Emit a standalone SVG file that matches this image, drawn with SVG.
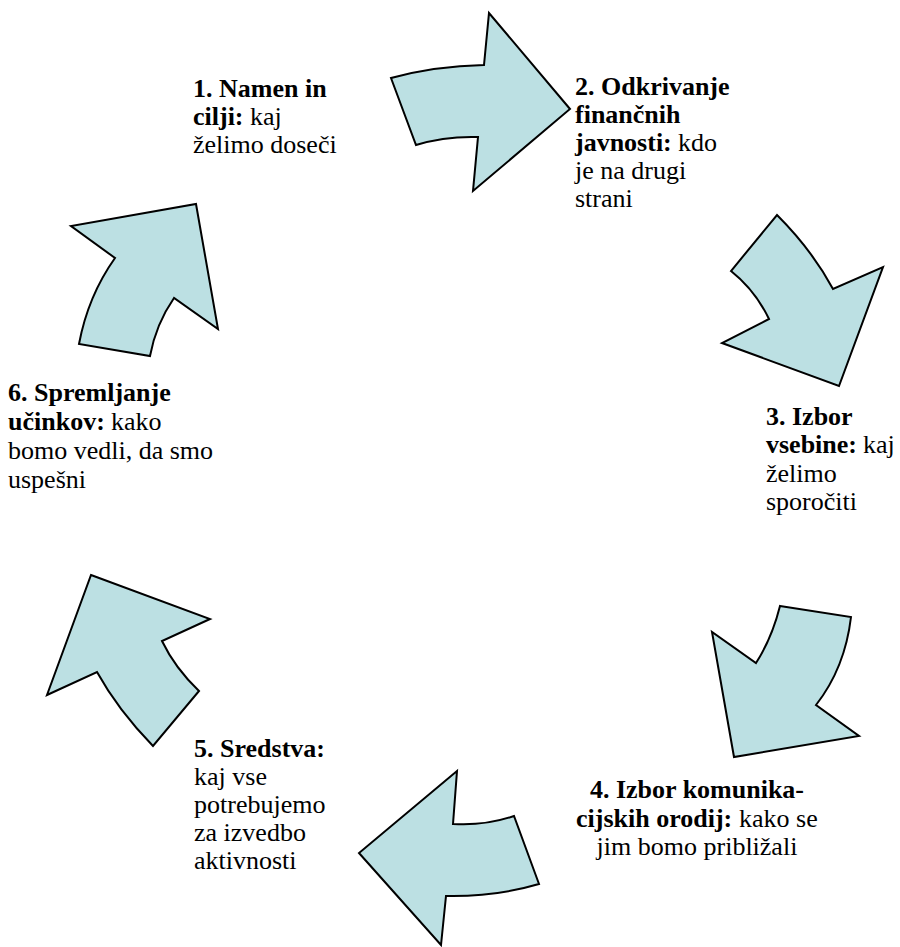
<svg xmlns="http://www.w3.org/2000/svg" width="900" height="947" viewBox="0 0 900 947">
<defs>
<style>
.arr{fill:#bce0e3;stroke:#000;stroke-width:2;stroke-linejoin:miter}
</style>
</defs>
<rect width="900" height="947" fill="#fff"/>
<g id="connectors">
<path id="a1" class="arr" d="M391,78 Q435,66 484,65 L489,13 L570,109 L473,191 L478,137 Q445,136 416,145 Z"/>
<path id="a2" class="arr" d="M777,215 Q812,250 833,289 L883,267 L839,386 L722,343 L769,319 Q755,290 731,271 Z"/>
<path id="a3" class="arr" d="M780,606 L851,617 Q845,668 816,705 L859,736 L734,757 L712,632 L756,663 Q772,638 780,606 Z"/>
<path id="a4" class="arr" d="M457,771 L453,824 Q485,826 514,816 L539,884 Q495,897 446,896 L441,945 L359,853 Z"/>
<path id="a5" class="arr" d="M91,575 L210,619 L162,641 Q175,668 199,691 L153,746 Q118,710 97,672 L47,695 Z"/>
<path id="a6" class="arr" d="M196,204 L218,329 L174,298 Q156,324 150,356 L79,344 Q88,296 115,258 L71,226 Z"/>
</g>
<g id="n1">
<text x="193" y="97" font-family="Liberation Serif, Times New Roman, serif" font-size="26" font-weight="bold">1. Namen in</text>
<text x="193" y="125" font-family="Liberation Serif, Times New Roman, serif" font-size="26" font-weight="bold">cilji:</text>
<text x="250" y="125" font-family="Liberation Serif, Times New Roman, serif" font-size="26">kaj</text>
<text x="193" y="153" font-family="Liberation Serif, Times New Roman, serif" font-size="26">želimo doseči</text>
</g>
<g id="n2">
<text x="575" y="95" font-family="Liberation Serif, Times New Roman, serif" font-size="26" font-weight="bold">2. Odkrivanje</text>
<text x="575" y="123" font-family="Liberation Serif, Times New Roman, serif" font-size="26" font-weight="bold">finančnih</text>
<text x="575" y="151" font-family="Liberation Serif, Times New Roman, serif" font-size="26" font-weight="bold">javnosti:</text>
<text x="678" y="151" font-family="Liberation Serif, Times New Roman, serif" font-size="26">kdo</text>
<text x="575" y="179" font-family="Liberation Serif, Times New Roman, serif" font-size="26">je na drugi</text>
<text x="575" y="207" font-family="Liberation Serif, Times New Roman, serif" font-size="26">strani</text>
</g>
<g id="n3">
<text x="766" y="425" font-family="Liberation Serif, Times New Roman, serif" font-size="26" font-weight="bold">3. Izbor</text>
<text x="766" y="453" font-family="Liberation Serif, Times New Roman, serif" font-size="26" font-weight="bold">vsebine:</text>
<text x="863" y="453" font-family="Liberation Serif, Times New Roman, serif" font-size="26">kaj</text>
<text x="766" y="482" font-family="Liberation Serif, Times New Roman, serif" font-size="26">želimo</text>
<text x="766" y="510" font-family="Liberation Serif, Times New Roman, serif" font-size="26">sporočiti</text>
</g>
<g id="n4">
<text x="697" y="798" text-anchor="middle" font-family="Liberation Serif, Times New Roman, serif" font-size="26" font-weight="bold">4. Izbor komunika-</text>
<text x="576" y="827" font-family="Liberation Serif, Times New Roman, serif" font-size="26" font-weight="bold">cijskih orodij:</text>
<text x="739" y="827" font-family="Liberation Serif, Times New Roman, serif" font-size="26">kako se</text>
<text x="697" y="855" text-anchor="middle" font-family="Liberation Serif, Times New Roman, serif" font-size="26">jim bomo približali</text>
</g>
<g id="n5">
<text x="194" y="757" font-family="Liberation Serif, Times New Roman, serif" font-size="26" font-weight="bold">5. Sredstva:</text>
<text x="194" y="785" font-family="Liberation Serif, Times New Roman, serif" font-size="26">kaj vse</text>
<text x="194" y="813" font-family="Liberation Serif, Times New Roman, serif" font-size="26">potrebujemo</text>
<text x="194" y="841" font-family="Liberation Serif, Times New Roman, serif" font-size="26">za izvedbo</text>
<text x="194" y="869" font-family="Liberation Serif, Times New Roman, serif" font-size="26">aktivnosti</text>
</g>
<g id="n6">
<text x="8" y="401" font-family="Liberation Serif, Times New Roman, serif" font-size="26" font-weight="bold">6. Spremljanje</text>
<text x="8" y="430" font-family="Liberation Serif, Times New Roman, serif" font-size="26" font-weight="bold">učinkov:</text>
<text x="111" y="430" font-family="Liberation Serif, Times New Roman, serif" font-size="26">kako</text>
<text x="8" y="459" font-family="Liberation Serif, Times New Roman, serif" font-size="26">bomo vedli, da smo</text>
<text x="8" y="488" font-family="Liberation Serif, Times New Roman, serif" font-size="26">uspešni</text>
</g>
</svg>
